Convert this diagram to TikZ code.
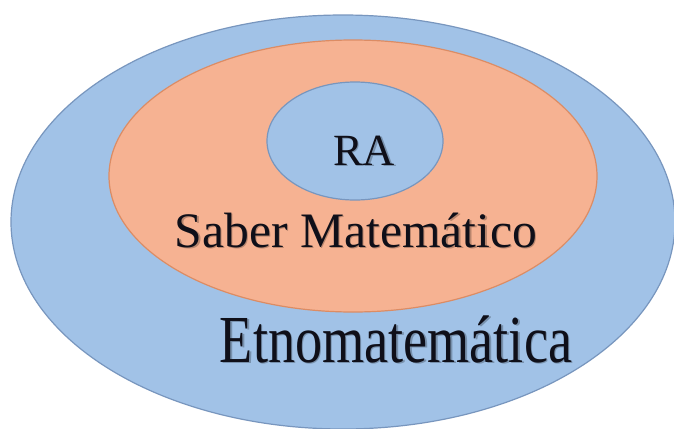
\documentclass[tikz,border=0pt]{standalone}
\usepackage{fontspec}
\setmainfont{Liberation Serif}
\definecolor{blueFill}{RGB}{161,194,231}
\definecolor{blueLine}{RGB}{120,150,190}
\definecolor{orangeFill}{RGB}{246,178,146}
\definecolor{orangeLine}{RGB}{220,140,100}
\definecolor{txt}{RGB}{15,15,25}
\tikzset{
  blueset/.style={fill=blueFill,draw=blueLine,line width=0.6pt},
  orangeset/.style={fill=orangeFill,draw=orangeLine,line width=0.6pt},
  lbl/.style={inner sep=0pt,anchor=base,text=txt},
  shadowlbl/.style={inner sep=0pt,anchor=base,text=black,opacity=0.25}
}
\newcommand{\etnotext}{\scalebox{1}[1.24]{Etnomatemática}}
\begin{document}
\begin{tikzpicture}[x=0.5pt,y=-0.5pt]
\useasboundingbox (0,0) rectangle (674,428);
\fill[white] (0,0) rectangle (674,428);
\draw[blueset] (343,222) ellipse [x radius=332, y radius=207];
\draw[orangeset] (353,176) ellipse [x radius=244, y radius=136];
\draw[blueset] (355,141) ellipse [x radius=88, y radius=59];
% shadows
\node[shadowlbl,font=\fontsize{22.3}{26}\selectfont] (raS) at (365.5,166.5) {RA};
\node[shadowlbl,font=\fontsize{24.8}{29}\selectfont] (smS) at (357.5,248.5) {Saber Matemático};
\node[shadowlbl,font=\fontsize{27.1}{32}\selectfont] (etS) at (397.5,363.5) {\etnotext};
% labels
\node[lbl,font=\fontsize{22.3}{26}\selectfont] (ra) at (364,165) {RA};
\node[lbl,font=\fontsize{24.8}{29}\selectfont] (sm) at (356,247) {Saber Matemático};
\node[lbl,font=\fontsize{27.1}{32}\selectfont] (et) at (396,362) {\etnotext};
\end{tikzpicture}
\end{document}
